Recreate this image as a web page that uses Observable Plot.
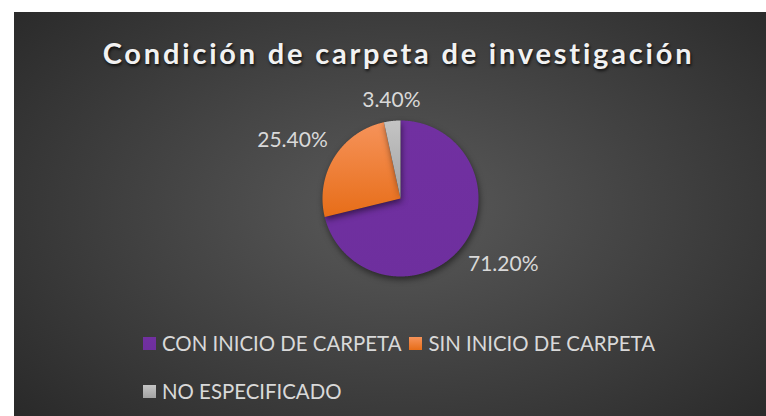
<!DOCTYPE html>
<html>
<head>
<meta charset="utf-8">
<script src="https://cdn.jsdelivr.net/npm/d3@7"></script>
<script src="https://cdn.jsdelivr.net/npm/@observablehq/plot@0.6"></script>
<style>
  html, body { margin: 0; padding: 0; background: #ffffff; width: 766px; height: 416px; overflow: hidden; }
  #root { position: relative; width: 766px; height: 416px; font-family: Lato, "Open Sans", sans-serif; }
  #bg { position: absolute; left: 14px; top: 12px; width: 770px; height: 410px;
        background: radial-gradient(ellipse 70% 80% at 50% 48%, #5a5a5a 0%, #3e3e3e 55%, #272727 100%); }
  #title { position: absolute; left: 0; top: 35px; width: 797px; text-align: center; white-space: nowrap;
           font-family: Lato, sans-serif; font-weight: 700; font-size: 29px; line-height: 36px;
           letter-spacing: 2.8px; color: #f2f2f2; text-shadow: 1px 2px 3px rgba(0,0,0,0.75); }
  #plot { position: absolute; left: 0; top: 0; }
  #legend { position: absolute; left: 143px; top: 330px; width: 530px; display: flex; flex-wrap: wrap;
            column-gap: 8px; row-gap: 21px; font-size: 20.4px; line-height: 27px; color: #d9d9d9; }
  .item { display: flex; align-items: center; gap: 6px; white-space: nowrap; }
  .sw { width: 13px; height: 13px; display: inline-block; }
</style>
</head>
<body>
<div id="root">
  <div id="bg"></div>
  <div id="title"></div>
  <div id="plot"></div>
  <div id="legend"></div>
</div>
<script>
// ---- data ----
const titleText = "Condición de carpeta de investigación";
const categories = ["CON INICIO DE CARPETA", "SIN INICIO DE CARPETA", "NO ESPECIFICADO"];
const values = [71.2, 25.4, 3.4];
const valueLabels = ["71.20%", "25.40%", "3.40%"];
// ---- styles ----
const colorTop = ["#7130a1", "#f6935a", "#c4c4c4"];
const colorBottom = ["#6e2f9e", "#e76d18", "#a3a3a3"];

document.getElementById("title").textContent = titleText;

const rows = categories.map((c, i) => ({category: c, value: values[i], label: valueLabels[i], i}));
const arcs = d3.pie().sort(null).value(d => d.value).startAngle(0).endAngle(2 * Math.PI)(rows);

// polygon points for each slice (angle clockwise from 12 o'clock)
const slicePts = arcs.map(a => {
  const pts = [{x: 0, y: 0}];
  const n = Math.max(2, Math.ceil((a.endAngle - a.startAngle) / 0.005));
  for (let k = 0; k <= n; k++) {
    const t = a.startAngle + (a.endAngle - a.startAngle) * k / n;
    pts.push({x: Math.sin(t), y: Math.cos(t)});
  }
  return pts;
});

// label anchor at 1.1 r along the mid angle
const labelRows = arcs.map(a => {
  const m = (a.startAngle + a.endAngle) / 2;
  const dx = Math.sin(m), dy = Math.cos(m);
  return {x: 1.1 * dx, y: 1.1 * dy, dx, dy, text: a.data.label};
});

const marks = [];
slicePts.forEach((pts, i) => {
  marks.push(Plot.line(pts, {x: "x", y: "y", curve: "linear-closed", fill: `url(#slice${i})`, stroke: "none"}));
});
labelRows.forEach(r => {
  marks.push(Plot.text([r], {
    x: "x", y: "y", text: "text",
    textAnchor: r.dx > 0.3 ? "start" : r.dx < -0.3 ? "end" : "middle",
    lineAnchor: "middle",
    dy: r.dy > 0.3 ? -13 : r.dy < -0.3 ? 13 : 0,
    fill: "#d9d9d9", fontSize: 21, fontFamily: "Lato, sans-serif"
  }));
});

const svg = Plot.plot({
  width: 766, height: 416,
  marginLeft: 322, marginRight: 288, marginTop: 120, marginBottom: 140,
  x: {domain: [-1, 1], axis: null},
  y: {domain: [-1, 1], axis: null},
  style: {background: "transparent", overflow: "visible"},
  marks
});

const defs = d3.select(svg).insert("defs", ":first-child");
values.forEach((v, i) => {
  const g = defs.append("linearGradient").attr("id", `slice${i}`)
    .attr("x1", 0).attr("y1", 0).attr("x2", 0).attr("y2", 1);
  g.append("stop").attr("offset", "0%").attr("stop-color", colorTop[i]);
  g.append("stop").attr("offset", "100%").attr("stop-color", colorBottom[i]);
});
d3.select(svg).selectAll('g[aria-label="line"]').style("filter", "drop-shadow(1px 3px 3px rgba(0,0,0,0.5))");
document.getElementById("plot").appendChild(svg);

// legend
const legend = d3.select("#legend");
categories.forEach((c, i) => {
  const it = legend.append("div").attr("class", "item");
  it.append("span").attr("class", "sw")
    .style("background", `linear-gradient(${colorTop[i]}, ${colorBottom[i]})`);
  it.append("span").text(c);
});
</script>
</body>
</html>
